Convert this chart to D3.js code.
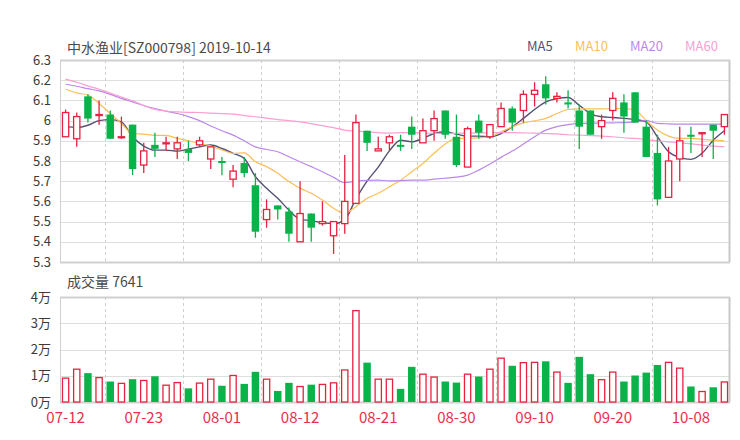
<!DOCTYPE html>
<html>
<head>
<meta charset="utf-8">
<script src="https://cdn.jsdelivr.net/npm/d3@7"></script>
<style>
body { margin: 0; background: #fff; }
text { font-family: "Noto Sans CJK SC", "Noto Sans", sans-serif; }
</style>
</head>
<body>
<svg id="chart"></svg>
<script>
let dates = ['07-12','07-15','07-16','07-17','07-18','07-19','07-22','07-23','07-24','07-25',
             '07-26','07-29','07-30','07-31','08-01','08-02','08-05','08-06','08-07','08-08',
             '08-09','08-12','08-13','08-14','08-15','08-16','08-19','08-20','08-21','08-22',
             '08-23','08-26','08-27','08-28','08-29','08-30','09-02','09-03','09-04','09-05',
             '09-06','09-09','09-10','09-11','09-12','09-16','09-17','09-18','09-19','09-20',
             '09-23','09-24','09-25','09-26','09-27','09-30','10-08','10-09','10-10','10-11']

let opens  = [5.92,5.91,6.12,6.03,6.03,5.92,5.98,5.78,5.88,5.89, 5.86,5.86,5.88,5.81,5.80,5.71,5.79,5.68,5.51,5.58,
              5.55,5.40,5.54,5.49,5.43,5.49,5.59,5.95,5.85,5.89, 5.88,5.97,5.89,5.95,6.05,5.92,5.77,6.00,5.92,5.97,
              6.06,6.05,6.13,6.18,6.11,6.09,6.05,6.05,5.97,6.05, 6.09,6.14,5.97,5.84,5.62,5.81,5.93,5.94,5.98,5.97]
let closes = [6.04,6.02,6.01,6.03,5.91,5.92,5.76,5.85,5.86,5.89, 5.89,5.84,5.90,5.87,5.79,5.75,5.74,5.45,5.56,5.56,
              5.44,5.54,5.47,5.50,5.50,5.60,5.99,5.89,5.86,5.92, 5.87,5.93,5.95,6.01,5.93,5.78,5.96,5.94,5.98,6.06,
              5.99,6.13,6.15,6.11,6.12,6.08,5.97,5.93,6.00,6.11, 6.02,5.99,5.82,5.61,5.80,5.90,5.92,5.94,5.95,6.03]
let highs  = [6.055,6.04,6.13,6.10,6.05,6.02,5.98,5.89,5.94,5.92, 5.92,5.90,5.92,5.87,5.82,5.78,5.82,5.74,5.61,5.58,
              5.57,5.70,5.54,5.60,5.50,5.83,6.03,5.95,5.92,5.93, 5.93,6.02,6.01,6.05,6.05,6.03,5.97,6.03,5.98,6.09,
              6.07,6.15,6.19,6.22,6.14,6.15,6.08,6.05,6.03,6.14, 6.13,6.14,6.00,5.93,5.87,5.97,5.97,5.94,5.98,6.03]
let lows   = [5.92,5.87,5.99,5.98,5.91,5.91,5.73,5.74,5.82,5.85, 5.81,5.80,5.87,5.76,5.73,5.67,5.72,5.42,5.47,5.51,
              5.40,5.40,5.40,5.48,5.34,5.44,5.59,5.85,5.85,5.85, 5.85,5.86,5.89,5.90,5.91,5.77,5.77,5.91,5.91,5.97,
              5.95,5.99,6.07,6.08,6.09,6.06,5.86,5.93,5.91,6.00, 5.94,5.99,5.82,5.58,5.62,5.70,5.84,5.82,5.81,5.93]

// volume in 万 shares
let volumes = [0.91,1.25,1.10,0.93,0.78,0.71,0.87,0.82,0.98,0.64, 0.74,0.52,0.72,0.87,0.62,1.01,0.69,1.15,0.87,0.42,
               0.73,0.59,0.66,0.67,0.73,1.22,3.48,1.50,0.87,0.87, 0.50,1.34,1.06,0.95,0.78,0.74,1.06,0.97,1.25,1.67,
               1.38,1.50,1.51,1.55,1.14,0.73,1.72,1.06,0.85,1.14, 0.78,1.01,1.12,1.41,1.51,1.29,0.59,0.40,0.56,0.7641]

let ma5  = [5.970,5.966,5.977,6.000,6.005,5.994,5.920,5.874,5.854,5.854, 5.849,5.859,5.870,5.879,5.862,5.838,5.813,5.722,5.665,5.615,
            5.557,5.511,5.505,5.495,5.490,5.510,5.612,5.700,5.770,5.850, 5.903,5.895,5.912,5.936,5.945,5.933,5.923,5.923,5.920,5.936,
            5.969,6.011,6.055,6.093,6.109,6.114,6.076,6.035,6.019,6.015, 6.011,6.006,5.994,5.920,5.846,5.818,5.808,5.838,5.903,5.950]
let ma10 = [6.155,6.137,6.126,6.085,6.035,5.986,5.936,5.933,5.927,5.927, 5.912,5.900,5.887,5.874,5.855,5.838,5.840,5.796,5.772,5.739,
            5.698,5.665,5.640,5.607,5.566,5.541,5.574,5.615,5.640,5.672, 5.705,5.747,5.788,5.838,5.884,5.912,5.912,5.915,5.920,5.945,
            5.969,5.989,5.999,6.011,6.035,6.055,6.058,6.058,6.058,6.059, 6.060,6.052,6.000,5.953,5.923,5.912,5.912,5.907,5.903,5.900]
let ma20 = [6.180,6.170,6.158,6.147,6.130,6.110,6.093,6.075,6.060,6.047, 6.035,6.020,6.000,5.973,5.950,5.928,5.900,5.870,5.857,5.846,
            5.821,5.796,5.772,5.747,5.719,5.693,5.700,5.704,5.705,5.702, 5.703,5.705,5.705,5.710,5.715,5.720,5.730,5.755,5.785,5.818,
            5.849,5.884,5.920,5.953,5.970,5.980,5.986,5.987,5.988,5.989, 5.990,5.994,6.000,5.986,5.984,5.983,5.983,5.983,5.983,5.983]
let ma60 = [6.205,6.190,6.172,6.155,6.136,6.117,6.098,6.075,6.055,6.047, 6.043,6.041,6.040,6.037,6.035,6.032,6.025,6.019,6.012,6.005,
            6.000,5.994,5.985,5.975,5.965,5.953,5.948,5.944,5.940,5.938, 5.940,5.940,5.938,5.937,5.936,5.937,5.938,5.939,5.940,5.940,
            5.940,5.939,5.938,5.936,5.934,5.930,5.928,5.926,5.923,5.920, 5.915,5.912,5.906,5.900,5.895,5.890,5.885,5.879,5.874,5.870]

let priceTicks = [5.3,5.4,5.5,5.6,5.7,5.8,5.9,6.0,6.1,6.2,6.3]
let volTicks = [0,1,2,3,4]
let labelDates = ['07-12','07-23','08-01','08-12','08-21','08-30','09-10','09-20','10-08']
let splitDates = ['07-18','07-29','08-07','08-16','08-27','09-05','09-17','09-26']
let maNames = ['MA5','MA10','MA20','MA60']
let maSeries = [ma5, ma10, ma20, ma60]

let width = 740
let height = 440
let left = 60
let right = 730
let priceTop = 60
let priceBottom = 262
let volTop = 297
let volBottom = 402

let upColor = '#e8213f'
let downColor = '#0ab34a'
let maColors = ['#555074','#fcbf55','#bb88ea','#fb9fd2']

let svg = d3.select('#chart').attr('width', width).attr('height', height)

let xScale = d3.scaleBand().domain(dates).range([left, right])
let bw = xScale.bandwidth()
let cx = (d) => xScale(d) + bw / 2
let bodyW = bw * 0.56

let yPrice = d3.scaleLinear().domain([5.3, 6.3]).range([priceBottom, priceTop])
let yVol = d3.scaleLinear().domain([0, 4]).range([volBottom, volTop])

let candles = dates.map((d, i) => ({date: d, o: opens[i], c: closes[i], h: highs[i], l: lows[i], v: volumes[i]}))

let drawGrid = (yScale, ticks, top, bottom, fmt) => {
    let g = svg.append('g')
    g.selectAll('line.h')
     .data(ticks)
     .enter()
     .append('line')
     .attr('x1', left).attr('x2', right)
     .attr('y1', d => Math.round(yScale(d)) + 0.5)
     .attr('y2', d => Math.round(yScale(d)) + 0.5)
     .attr('stroke', '#dedede')
    g.selectAll('line.v')
     .data(splitDates)
     .enter()
     .append('line')
     .attr('x1', d => Math.round(xScale(d)) + 0.5)
     .attr('x2', d => Math.round(xScale(d)) + 0.5)
     .attr('y1', top).attr('y2', bottom)
     .attr('stroke', '#cfcfcf')
     .attr('stroke-dasharray', '3,3')
    // frame
    g.append('line').attr('x1', left + 0.5).attr('x2', left + 0.5).attr('y1', top).attr('y2', bottom).attr('stroke', '#d0d0d0')
    g.append('line').attr('x1', right - 0.5).attr('x2', right - 0.5).attr('y1', top).attr('y2', bottom).attr('stroke', '#c8c8c8').attr('stroke-width', 2)
    g.append('line').attr('x1', left).attr('x2', right).attr('y1', Math.round(top) + 0.5).attr('y2', Math.round(top) + 0.5).attr('stroke', '#d0d0d0').attr('stroke-width', 2)
    g.append('line').attr('x1', left).attr('x2', right).attr('y1', Math.round(bottom) + 0.5).attr('y2', Math.round(bottom) + 0.5).attr('stroke', '#d0d0d0').attr('stroke-width', 2)

    let axis = d3.axisLeft(yScale).tickValues(ticks).tickSize(0).tickPadding(9).tickFormat(fmt)
    let ag = svg.append('g').attr('transform', 'translate(' + left + ',0)').call(axis)
    ag.select('.domain').remove()
    ag.selectAll('text').attr('fill', '#3a3a3a').style('font-size', '13px')
}

drawGrid(yPrice, priceTicks, priceTop, priceBottom, d3.format(''))
drawGrid(yVol, volTicks, volTop, volBottom, d => d + '万')

// MA lines
maSeries.forEach((s, k) => {
    let line = d3.line()
                 .x((v, i) => cx(dates[i]))
                 .y(v => yPrice(v))
                 .curve(d3.curveMonotoneX)
    svg.append('path')
       .datum(s)
       .attr('d', line)
       .attr('fill', 'none')
       .attr('stroke', maColors[k])
       .attr('stroke-width', k == 0 ? 1.4 : 1.2)
})

// candles
let cg = svg.append('g')
candles.forEach(d => {
    let up = d.c >= d.o
    let col = up ? upColor : downColor
    let x = cx(d.date)
    let bTop = yPrice(Math.max(d.o, d.c))
    let bBot = yPrice(Math.min(d.o, d.c))
    let hgt = Math.max(bBot - bTop, 1)
    if (up) {
        cg.append('line').attr('x1', x).attr('x2', x).attr('y1', yPrice(d.h)).attr('y2', bTop).attr('stroke', col).attr('stroke-width', 1.3)
        cg.append('line').attr('x1', x).attr('x2', x).attr('y1', bTop + hgt).attr('y2', yPrice(d.l)).attr('stroke', col).attr('stroke-width', 1.3)
        cg.append('rect').attr('x', x - bodyW / 2).attr('y', bTop).attr('width', bodyW).attr('height', hgt)
          .attr('fill', '#fff').attr('stroke', col).attr('stroke-width', 1.3)
    } else {
        cg.append('line').attr('x1', x).attr('x2', x).attr('y1', yPrice(d.h)).attr('y2', yPrice(d.l)).attr('stroke', col).attr('stroke-width', 1.3)
        cg.append('rect').attr('x', x - bodyW / 2 - 0.6).attr('y', bTop).attr('width', bodyW + 1.2).attr('height', hgt)
          .attr('fill', col)
    }
})

// volume bars
svg.append('g')
   .selectAll('rect')
   .data(candles)
   .enter()
   .append('rect')
   .attr('x', d => cx(d.date) - bodyW / 2 - (d.c >= d.o ? 0 : 0.6))
   .attr('width', d => d.c >= d.o ? bodyW : bodyW + 1.2)
   .attr('y', d => yVol(d.v))
   .attr('height', d => yVol(0) - yVol(d.v))
   .attr('fill', d => d.c >= d.o ? '#fff' : downColor)
   .attr('stroke', d => d.c >= d.o ? upColor : 'none')
   .attr('stroke-width', 1.3)

// x labels
svg.append('g')
   .selectAll('text')
   .data(labelDates)
   .enter()
   .append('text')
   .attr('x', d => cx(d))
   .attr('y', 423)
   .attr('text-anchor', 'middle')
   .attr('fill', '#e8304b')
   .style('font-size', '15px')
   .text(d => d)

// titles
svg.append('text').attr('x', 67).attr('y', 53).attr('fill', '#4a4a4a').style('font-size', '14px').text('中水渔业[SZ000798] 2019-10-14')
svg.append('text').attr('x', 67).attr('y', 287).attr('fill', '#4a4a4a').style('font-size', '14px').text('成交量 ' + Math.round(volumes[volumes.length - 1] * 10000))

// legend
let legendX = [527, 575, 630, 685]
svg.append('g')
   .selectAll('text')
   .data(maNames)
   .enter()
   .append('text')
   .attr('x', (d, i) => legendX[i])
   .attr('y', 51)
   .attr('fill', (d, i) => maColors[i])
   .style('font-size', '13px')
   .text(d => d)
</script>
</body>
</html>
